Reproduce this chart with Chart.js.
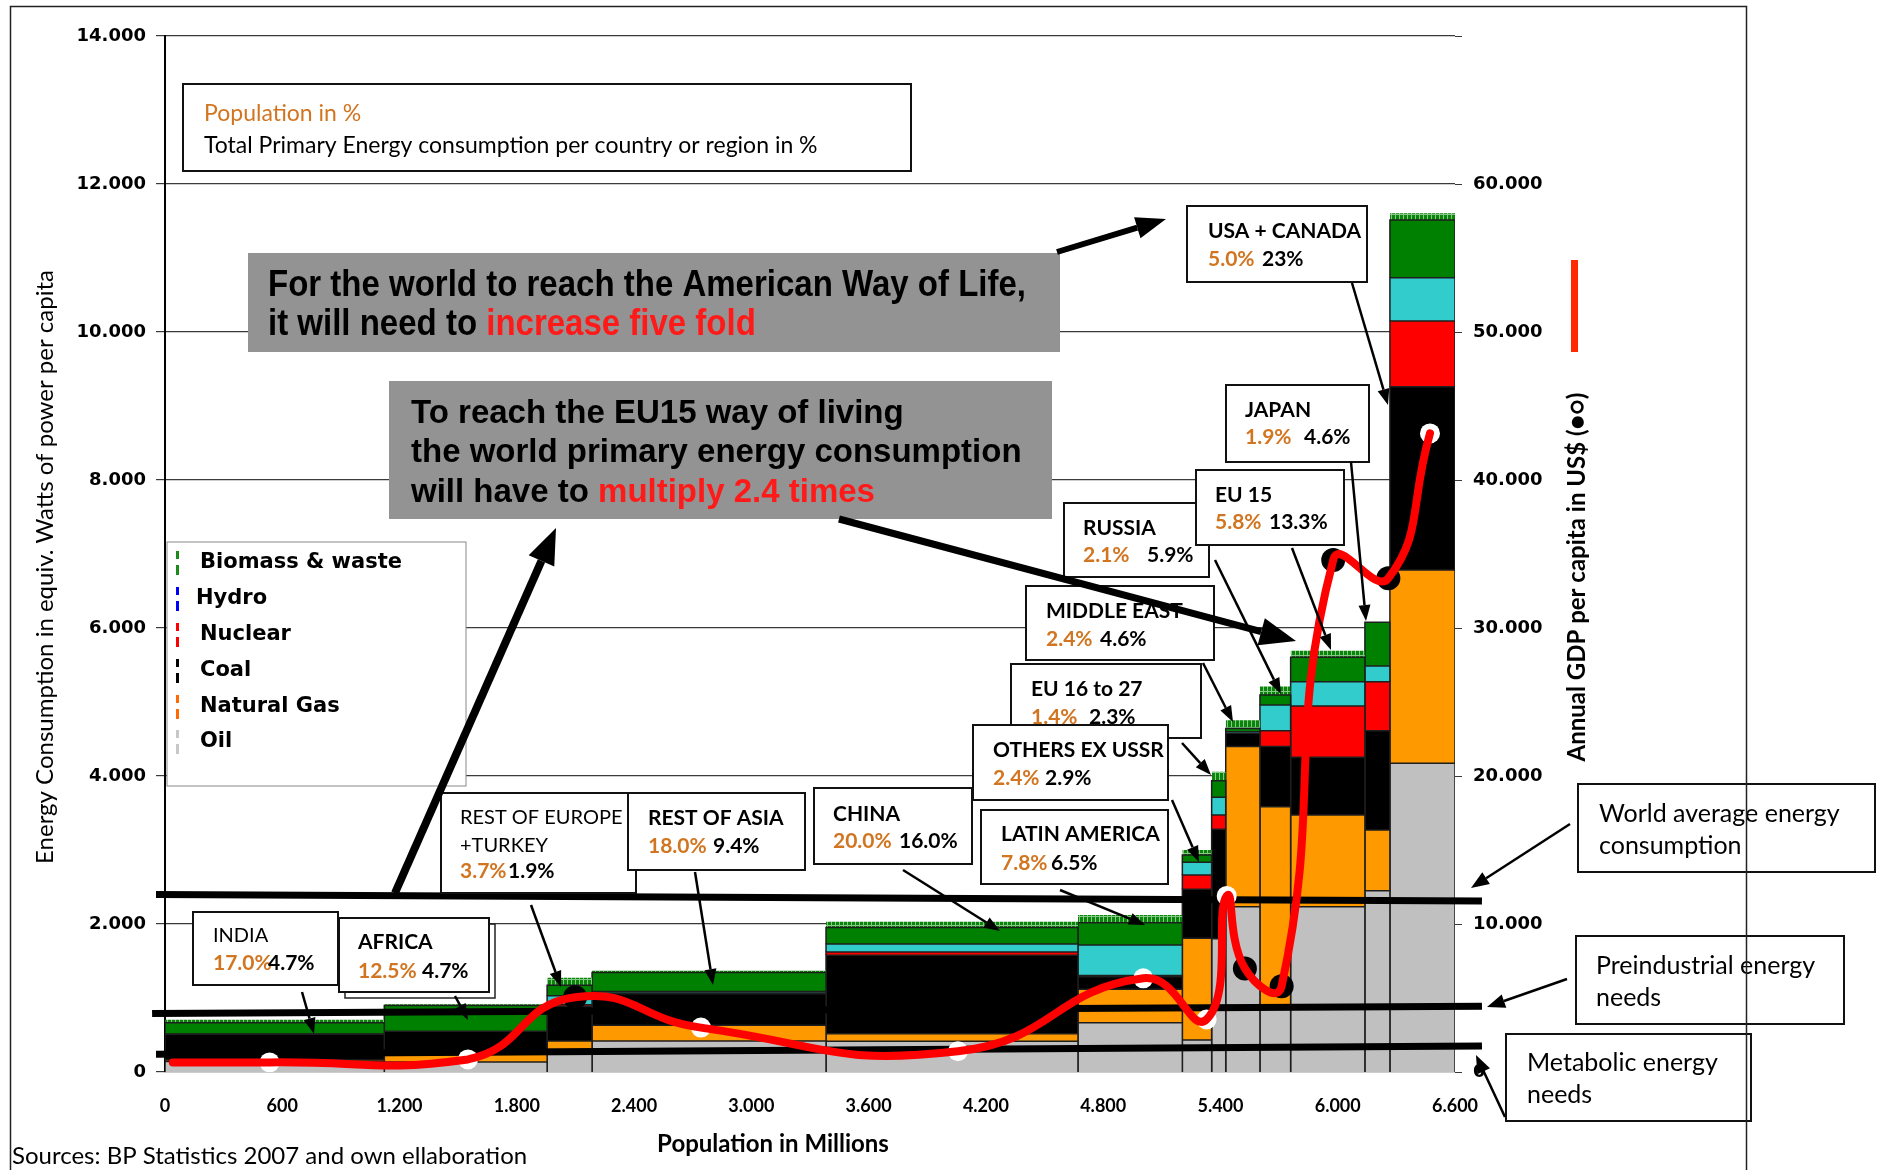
<!DOCTYPE html>
<html lang="en">
<head>
<meta charset="UTF-8">
<title>Energy consumption per capita and population</title>
<script src="https://cdn.jsdelivr.net/npm/chart.js"></script>
<style>
  html, body { margin: 0; padding: 0; background: #fff; }
  #wrap { width: 1879px; height: 1170px; }
</style>
</head>
<body>
<div id="wrap"><canvas id="myChart" width="1879" height="1170"></canvas></div>
<script>
// regions, left to right (population in millions = bar width)
const regions = ['INDIA', 'AFRICA', 'REST OF EUROPE\n+TURKEY', 'REST OF ASIA', 'CHINA', 'LATIN AMERICA',
  'OTHERS EX USSR', 'EU 16 to 27', 'MIDDLE EAST', 'RUSSIA', 'EU 15', 'JAPAN', 'USA + CANADA'];
const population = [1122, 833, 230, 1197, 1289, 534, 150, 72, 175, 157, 380, 128, 333];
const popShare = ['17.0%', '12.5%', '3.7%', '18.0%', '20.0%', '7.8%', '2.4%', '1.4%', '2.4%', '2.1%', '5.8%', '1.9%', '5.0%'];
const energyShare = ['4.7%', '4.7%', '1.9%', '9.4%', '16.0%', '6.5%', '2.9%', '2.3%', '4.6%', '5.9%', '13.3%', '4.6%', '23%'];

// watts per capita by source (stacked bottom to top)
const oil     = [143, 135, 290, 420, 417, 666, 432, 1800, 2234, 860, 2234, 2451, 4172];
const gas     = [20, 142, 130, 212, 99, 452, 1374, 0, 2163, 2726, 1239, 820, 2612];
const coal    = [347, 273, 470, 426, 1062, 170, 663, 1480, 180, 811, 780, 1342, 2477];
const nuclear = [5, 0, 20, 10, 43, 15, 193, 193, 0, 216, 693, 662, 888];
const hydro   = [0, 0, 120, 20, 108, 413, 172, 239, 20, 347, 329, 212, 585];
const biomass = [150, 347, 143, 255, 223, 301, 99, 225, 45, 135, 329, 590, 780];
const waste   = [40, 20, 102, 30, 78, 105, 67, 122, 110, 113, 90, 0, 90];

// GDP per capita (US$) markers and curve
const gdpPop   = [535, 1550, 2098, 2742, 4057, 5005, 5329, 5432, 5525, 5713, 5977, 6259, 6472];
const gdpValue = [650, 850, 5050, 3000, 1400, 6330, 3550, 11900, 7000, 5800, 34600, 33360, 43150];
const gdpDot   = ['white', 'white', 'black', 'white', 'white', 'white', 'white', 'white', 'black', 'black', 'black', 'black', 'white'];
const gdpStart = [40, 650];

// reference levels (W per capita), [population, watts]
const worldAverage  = [[-46, 2400], [6738, 2310]];
const preindustrial = [[-66, 790], [6738, 890]];
const metabolic     = [[-46, 240], [6738, 350]];

const xTicks = [0, 6600, 600];
const yTicks = [0, 14000, 2000];
const y2Ticks = [0, 70000, 10000];

const ORANGE = '#d27520';
const RED = '#ff1a1a';

function hatch() {
  const c = document.createElement('canvas');
  c.width = 4; c.height = 9;
  const g = c.getContext('2d');
  g.fillStyle = '#86c886'; g.fillRect(0, 0, 4, 9);
  g.fillStyle = '#0b840b'; g.fillRect(0, 0, 3, 9);
  g.fillStyle = '#86c886'; g.fillRect(0, 7, 3, 1);
  return g.createPattern(c, 'repeat');
}

const layers = [
  { values: oil, color: '#c0c0c0' },
  { values: gas, color: '#ff9900' },
  { values: coal, color: '#000000' },
  { values: nuclear, color: '#ff0000' },
  { values: hydro, color: '#33cccc' },
  { values: biomass, color: '#008000' },
  { values: waste, color: hatch(), hatched: true }
];

const datasets = [];
let x0 = 0;
regions.forEach((r, i) => {
  const x1 = x0 + population[i];
  let base = 0;
  layers.forEach(layer => {
    const v = layer.values[i];
    if (v > 0) {
      datasets.push({
        data: [{ x: x0, y: base }, { x: x0, y: base + v }, { x: x1, y: base + v }, { x: x1, y: base }],
        backgroundColor: layer.color,
        borderColor: layer.hatched ? 'rgba(0,0,0,0)' : '#1e1e1e',
        borderWidth: layer.hatched ? 0 : 1.5,
        fill: { value: base },
        pointRadius: 0, tension: 0, order: 10, yAxisID: 'y'
      });
    }
    base += v;
  });
  x0 = x1;
});

[worldAverage, preindustrial, metabolic].forEach(line => {
  datasets.push({
    data: line.map(p => ({ x: p[0], y: p[1] })),
    borderColor: '#000', borderWidth: 7, pointRadius: 0, fill: false,
    clip: false, order: 3, yAxisID: 'y'
  });
});

const dots = gdpPop.map((p, i) => ({ x: p, y: gdpValue[i] }));
datasets.push({
  data: dots, showLine: false, yAxisID: 'y2', order: 2,
  pointRadius: gdpDot.map(c => c === 'white' ? 10 : 12),
  pointBackgroundColor: gdpDot.map(c => c === 'white' ? '#ffffff' : '#000000'),
  pointBorderWidth: 0
});
datasets.push({
  data: [{ x: gdpStart[0], y: gdpStart[1] }].concat(dots),
  borderColor: '#ff0000', borderWidth: 8, tension: 0.5, pointRadius: 0,
  fill: false, yAxisID: 'y2', order: 1, borderCapStyle: 'round', borderJoinStyle: 'round'
});

const dotted = v => String(v).replace(/\B(?=(\d{3})+(?!\d))/g, '.');

function txt(ctx, s, x, y, font, color, align, maxW) {
  ctx.font = font;
  ctx.fillStyle = color;
  ctx.textAlign = align || 'left';
  ctx.textBaseline = 'middle';
  if (maxW) ctx.fillText(s, x, y, maxW); else ctx.fillText(s, x, y);
}

function runs(ctx, parts, x, y, font, k) {
  ctx.save();
  ctx.font = font;
  ctx.textAlign = 'left';
  ctx.textBaseline = 'middle';
  ctx.translate(x, y);
  ctx.scale(k || 1, 1);
  let cx = 0;
  parts.forEach(p => {
    ctx.fillStyle = p[1];
    ctx.fillText(p[0], cx, 0);
    cx += ctx.measureText(p[0]).width;
  });
  ctx.restore();
}

function box(ctx, x, y, w, h, lw, fill, stroke) {
  ctx.fillStyle = fill || '#fff';
  ctx.fillRect(x, y, w, h);
  if (lw) {
    ctx.lineWidth = lw;
    ctx.strokeStyle = stroke || '#111';
    ctx.strokeRect(x, y, w, h);
  }
}

function arrow(ctx, a, lw, hl, hw) {
  const [x1, y1, x2, y2] = a;
  const ang = Math.atan2(y2 - y1, x2 - x1);
  const bx = x2 - hl * Math.cos(ang), by = y2 - hl * Math.sin(ang);
  ctx.strokeStyle = '#000';
  ctx.lineWidth = lw;
  ctx.lineCap = 'butt';
  ctx.beginPath(); ctx.moveTo(x1, y1); ctx.lineTo(bx, by); ctx.stroke();
  ctx.fillStyle = '#000';
  ctx.beginPath();
  ctx.moveTo(x2, y2);
  ctx.lineTo(bx + hw / 2 * Math.sin(ang), by - hw / 2 * Math.cos(ang));
  ctx.lineTo(bx - hw / 2 * Math.sin(ang), by + hw / 2 * Math.cos(ang));
  ctx.closePath();
  ctx.fill();
}

// label box layout: box rect, name y's, percent y, x of texts, arrow
const labelBoxes = [
  { b: [193, 912, 145, 73], ty: [936], py: 963, tx: 213, p2: 268, bold: false, a: [302, 992, 314, 1034] },
  { b: [339, 918, 150, 74], ty: [942], py: 971, tx: 358, p2: 422, bold: true, a: [455, 996, 468, 1020], shadow: true },
  { b: [441, 793, 195, 100], ty: [818, 846], py: 871, tx: 460, p2: 508, bold: false, a: [531, 905, 561, 987] },
  { b: [628, 793, 177, 77], ty: [818], py: 846, tx: 648, p2: 713, bold: true, a: [695, 872, 713, 985] },
  { b: [814, 788, 158, 76], ty: [814], py: 841, tx: 833, p2: 899, bold: true, a: [903, 870, 1000, 931] },
  { b: [981, 810, 187, 74], ty: [834], py: 863, tx: 1001, p2: 1051, bold: true, a: [1060, 890, 1145, 925] },
  { b: [973, 725, 195, 75], ty: [750], py: 778, tx: 993, p2: 1045, bold: true, a: [1172, 800, 1199, 862] },
  { b: [1011, 664, 190, 74], ty: [689], py: 717, tx: 1031, p2: 1089, bold: true, a: [1182, 743, 1211, 775] },
  { b: [1026, 586, 188, 74], ty: [611], py: 639, tx: 1046, p2: 1100, bold: true, a: [1203, 663, 1233, 722] },
  { b: [1064, 503, 145, 74], ty: [528], py: 555, tx: 1083, p2: 1147, bold: true, a: [1215, 560, 1281, 694] },
  { b: [1196, 470, 148, 75], ty: [495], py: 522, tx: 1215, p2: 1269, bold: true, a: [1292, 548, 1331, 650] },
  { b: [1226, 385, 143, 77], ty: [410], py: 437, tx: 1245, p2: 1304, bold: true, a: [1351, 462, 1366, 621] },
  { b: [1187, 206, 180, 76], ty: [231], py: 259, tx: 1208, p2: 1262, bold: true, a: [1352, 283, 1388, 405] }
];
const drawOrder = [0, 1, 2, 3, 4, 5, 7, 6, 8, 9, 10, 11, 12];

const legendItems = [['Biomass & waste', '#1a8a1a'], ['Hydro', '#0000ff'], ['Nuclear', '#ff0000'],
  ['Coal', '#000000'], ['Natural Gas', '#ff6a00'], ['Oil', '#c8c8c8']];

const annotations = {
  id: 'annotations',
  afterDraw(chart) {
    const ctx = chart.ctx;
    ctx.save();

    // legend
    box(ctx, 167, 542, 299, 244, 1, '#fff', '#8a8a8a');
    const ly = [562, 598, 634, 670, 706, 741];
    legendItems.forEach((it, i) => {
      ctx.fillStyle = it[1];
      ctx.fillRect(176, ly[i] - 11, 3, 8);
      ctx.fillRect(176, ly[i] + 3, 3, 10);
      txt(ctx, it[0], i === 1 ? 196 : 200, ly[i] + 1, 'bold 21px "DejaVu Sans"', '#000', 'left', 205);
    });

    // top key box
    box(ctx, 183, 84, 728, 87, 2);
    txt(ctx, 'Population in %', 204, 114, '23px Lato', ORANGE, 'left');
    txt(ctx, 'Total Primary Energy consumption per country or region in %', 204, 146, '23px Lato', '#000', 'left', 681);

    // grey message boxes
    box(ctx, 248, 253, 812, 99, 0, '#939393');
    ctx.font = 'bold 36px "Liberation Sans Narrow", "Liberation Sans", Arial';
    const l1 = 'For the world to reach the American Way of Life,';
    const k1 = Math.min(1, 758 / ctx.measureText(l1).width);
    runs(ctx, [[l1, '#000']], 268, 286, ctx.font, k1);
    runs(ctx, [['it will need to ', '#000'], ['increase five fold', RED]], 268, 325, ctx.font, k1);

    box(ctx, 389, 381, 663, 138, 0, '#939393');
    const f2 = 'bold 33px "Liberation Sans", Arial';
    runs(ctx, [['To reach the EU15 way of living', '#000']], 411, 414, f2, 1);
    runs(ctx, [['the world primary energy consumption', '#000']], 411, 453, f2, 1);
    runs(ctx, [['will have to ', '#000'], ['multiply 2.4 times', RED]], 411, 493, f2, 1);

    // region label boxes
    drawOrder.forEach(i => {
      const L = labelBoxes[i];
      const [bx, by, bw, bh] = L.b;
      if (L.shadow) { ctx.lineWidth = 1.5; ctx.strokeStyle = '#222'; ctx.strokeRect(bx + 6, by + 6, bw, bh); }
      box(ctx, bx, by, bw, bh, 2);
      const names = regions[i].split('\n');
      names.forEach((n, j) => txt(ctx, n, L.tx, L.ty[j], (L.bold ? 'bold ' : '') + (L.bold ? '21px' : '20px') + ' Lato', '#000', 'left'));
      txt(ctx, popShare[i], L.tx, L.py, 'bold 21px Lato', ORANGE, 'left');
      txt(ctx, energyShare[i], L.p2, L.py, 'bold 21px Lato', '#000', 'left');
    });
    labelBoxes.forEach(L => arrow(ctx, L.a, 2.5, 16, 12));

    // right side boxes
    box(ctx, 1578, 784, 297, 88, 2);
    txt(ctx, 'World average energy', 1599, 814, '25px Lato', '#000', 'left', 250);
    txt(ctx, 'consumption', 1599, 846, '25px Lato', '#000', 'left');
    box(ctx, 1576, 936, 268, 88, 2);
    txt(ctx, 'Preindustrial energy', 1596, 966, '25px Lato', '#000', 'left', 230);
    txt(ctx, 'needs', 1596, 998, '25px Lato', '#000', 'left');
    box(ctx, 1506, 1034, 245, 87, 2);
    txt(ctx, 'Metabolic energy', 1527, 1063, '25px Lato', '#000', 'left', 200);
    txt(ctx, 'needs', 1527, 1095, '25px Lato', '#000', 'left');
    arrow(ctx, [1570, 824, 1471, 888], 2.5, 18, 14);
    arrow(ctx, [1567, 979, 1487, 1007], 2.5, 18, 14);
    arrow(ctx, [1505, 1117, 1476, 1055], 2.5, 18, 14);

    // thick arrows
    arrow(ctx, [1057, 252, 1166, 219], 6, 30, 22);
    arrow(ctx, [395, 893, 556, 528], 8, 36, 28);
    arrow(ctx, [839, 519, 1296, 641], 7, 36, 28);

    // axis titles and notes
    ctx.save();
    ctx.translate(45, 567);
    ctx.rotate(-Math.PI / 2);
    txt(ctx, 'Energy Consumption in equiv. Watts of power per capita', 0, 0, '24px Lato', '#000', 'center', 625);
    ctx.restore();
    ctx.save();
    ctx.translate(1577, 577);
    ctx.rotate(-Math.PI / 2);
    txt(ctx, 'Annual GDP per capita in US$ (●○)', 0, 0, 'bold 24px Lato', '#000', 'center', 392);
    ctx.restore();
    ctx.fillStyle = '#ff2a00';
    ctx.fillRect(1571, 260, 7, 92);

    txt(ctx, 'Population in Millions', 773, 1144, 'bold 24px Lato', '#000', 'center', 250);
    txt(ctx, 'Sources: BP Statistics 2007 and own ellaboration', 12, 1156, '24px Lato', '#000', 'left', 542);

    // outer frame
    ctx.lineWidth = 1.5;
    ctx.strokeStyle = '#222';
    ctx.strokeRect(10.5, 6.5, 1736, 1185);
    ctx.restore();
  }
};

new Chart(document.getElementById('myChart'), {
  type: 'line',
  data: { datasets },
  options: {
    responsive: false,
    animation: false,
    devicePixelRatio: 1,
    events: [],
    layout: { padding: { top: 36, left: 0, right: 0, bottom: 0 } },
    plugins: { legend: { display: false }, tooltip: { enabled: false } },
    scales: {
      x: {
        type: 'linear', min: xTicks[0], max: xTicks[1],
        afterFit: s => { s.height = 98; },
        ticks: { stepSize: xTicks[2], padding: 15, maxRotation: 0, autoSkip: false, color: '#000',
          font: { family: 'Lato', weight: 'bold', size: 18 }, callback: v => dotted(v) },
        grid: { display: false },
        border: { display: false }
      },
      y: {
        type: 'linear', position: 'left', min: yTicks[0], max: yTicks[1],
        afterFit: s => { s.width = 165; },
        ticks: { stepSize: yTicks[2], padding: 10, color: '#000',
          font: { family: 'DejaVu Sans', weight: 'bold', size: 18 }, callback: v => dotted(v) },
        grid: { color: '#3a3a3a', lineWidth: 1.2, tickLength: 9 },
        border: { color: '#000', width: 2 }
      },
      y2: {
        type: 'linear', position: 'right', min: y2Ticks[0], max: y2Ticks[1],
        afterFit: s => { s.width = 424; },
        ticks: { stepSize: y2Ticks[2], padding: 11, color: '#000',
          font: { family: 'DejaVu Sans', weight: 'bold', size: 18 },
          callback: v => v === y2Ticks[1] ? '' : dotted(v) },
        grid: { drawOnChartArea: false, tickLength: 7, color: '#3a3a3a' },
        border: { display: false }
      }
    }
  },
  plugins: [annotations]
});
</script>
</body>
</html>
